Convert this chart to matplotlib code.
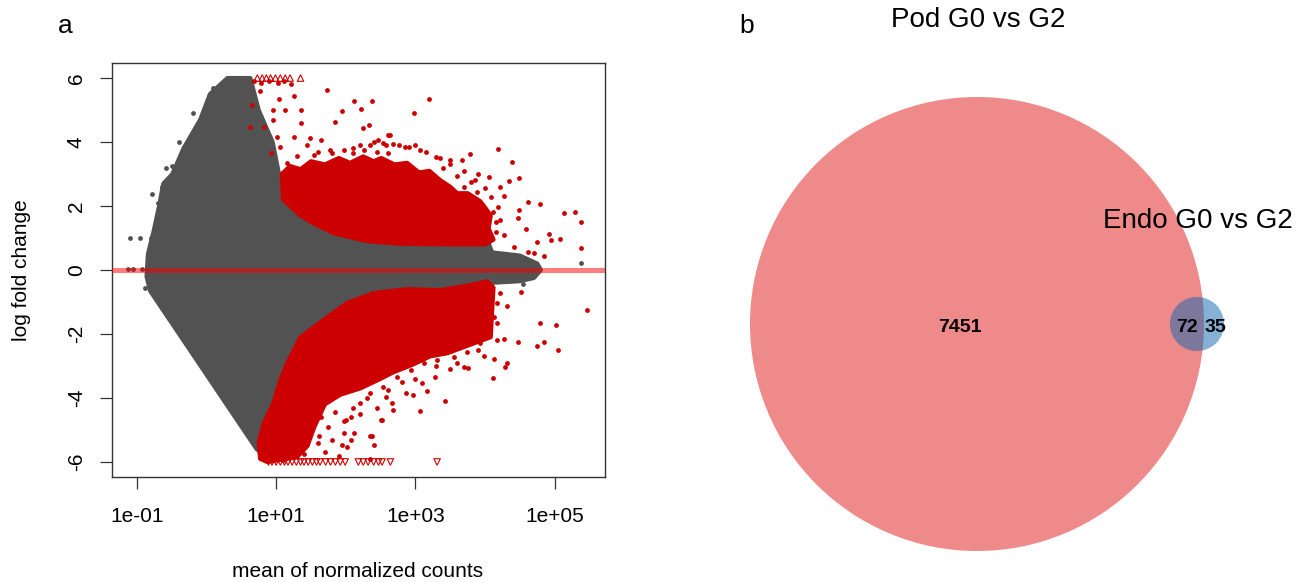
import numpy as np
import matplotlib
matplotlib.use("Agg")
import matplotlib.pyplot as plt
from matplotlib.patches import Circle

plt.rcParams['font.family'] = ['Liberation Sans', 'DejaVu Sans']

# ---------------- Panel a: MA plot (x = log10 mean of normalized counts, y = log fold change)
# outline of the dense non-significant (grey) cloud
grey_log = [-0.81, -0.86, -0.84, -0.76, -0.68, -0.62, -0.49, -0.33, -0.09, 0.05, 0.30, 0.63,
            0.75, 0.95, 1.06, 1.35, 1.82, 2.31, 2.78, 3.40, 4.03, 4.10, 4.50, 4.75, 4.80,
            4.70, 4.50, 4.10, 4.03, 3.40, 2.78, 2.40, 2.07, 1.59, 1.30, 1.06, 0.75, 0.72]
grey_lfc = [-0.65, -0.20, 0.50, 1.20, 2.00, 2.70, 3.00, 3.80, 4.70, 5.50, 6.00, 6.00,
            5.00, 4.00, 2.80, 1.90, 1.25, 1.00, 0.95, 0.95, 0.95, 0.55, 0.45, 0.20, 0.00,
            -0.25, -0.35, -0.40, -0.70, -0.62, -0.55, -0.70, -1.03, -1.56, -2.28, -3.44, -5.65, -5.60]
# outline of dense significant up-regulated (red) cloud
redu_log = [1.08, 1.20, 1.35, 1.50, 1.70, 1.90, 2.06, 2.25, 2.40, 2.51, 2.70, 2.88, 3.05,
            3.20, 3.36, 3.50, 3.60, 3.75, 3.93, 4.00, 4.08, 4.05, 4.12, 4.00, 3.50, 2.78,
            2.31, 1.82, 1.50, 1.35, 1.10]
redu_lfc = [3.00, 3.25, 3.15, 3.40, 3.30, 3.50, 3.35, 3.55, 3.40, 3.50, 3.30, 3.35, 3.05,
            3.10, 2.80, 2.60, 2.40, 2.40, 2.15, 1.95, 1.70, 1.30, 0.95, 0.80, 0.80, 0.82,
            0.90, 1.15, 1.50, 1.70, 2.20]
# outline of dense significant down-regulated (red) cloud
redl_log = [0.75, 0.82, 0.96, 1.06, 1.16, 1.35, 1.68, 2.02, 2.40, 2.88, 3.36, 3.83, 4.03,
            4.12, 4.10, 4.08, 3.83, 3.46, 3.21, 2.97, 2.68, 2.50, 2.21, 1.92, 1.70, 1.55,
            1.45, 1.30, 0.87, 0.77]
redl_lfc = [-5.40, -4.80, -4.16, -3.44, -2.90, -2.10, -1.56, -1.03, -0.72, -0.60, -0.63,
            -0.45, -0.35, -0.55, -1.30, -2.10, -2.30, -2.60, -2.70, -2.95, -3.20, -3.40,
            -3.70, -3.90, -4.20, -4.90, -5.50, -5.85, -6.00, -5.90]
# sparse significant genes
red_pts_log = [1.73, 2.12, 2.37, 1.94, 2.22, 1.85, 2.25, 2.33, 1.04, 1.25, 1.35, 0.77, 0.66,
               0.95, 1.13, 0.96, 0.63, 0.82, 1.01, 1.35, 1.25, 1.49, 1.64, 1.06, 0.92, 1.78,
               2.11, 2.46, 2.57, 2.61, 3.20, 2.98, 2.63, 4.19, 4.39, 3.78, 3.67, 3.90, 4.05,
               4.48, 4.34, 4.21, 4.27, 4.61, 4.78, 4.48, 4.58, 4.47, 5.13, 5.29, 5.37, 5.08,
               4.91, 4.94, 4.75, 5.38, 4.85, 4.70, 4.61, 4.41, 4.27, 4.15, 4.11, 4.19,
               0.68, 0.78, 0.90, 1.02, 1.12, 1.22, 2.68, 2.85, 3.00, 3.15, 3.35, 3.50, 3.70,
               3.85, 2.20, 2.40, 1.60, 1.45,
               2.11, 2.26, 2.35, 2.54, 2.76, 2.90, 3.07, 3.29, 3.50, 3.69, 3.89, 4.08,
               1.15, 1.30, 1.55, 1.80, 1.98, 2.45, 2.60, 3.40, 3.60, 3.80, 4.00, 4.15, 4.22,
               4.52, 5.46, 4.32, 4.78, 5.02, 4.17, 4.03, 4.27, 4.47, 4.74, 4.84, 5.04, 4.12,
               4.31, 4.28, 4.11, 3.75, 3.69, 3.98, 3.42, 3.07, 3.28, 3.17, 3.10, 2.97, 2.86,
               2.68, 2.51, 2.40, 2.37, 2.12, 2.07, 1.98, 1.97, 2.02, 1.95, 2.35, 2.00, 2.35,
               2.52, 2.67, 2.57, 1.65, 1.75, 1.80, 1.60, 1.70, 1.90, 2.20, 2.30, 2.10, 1.85,
               2.45, 2.60, 2.80, 3.00, 3.30, 3.50, 3.60, 3.90,
               2.07, 2.21, 2.35, 2.54, 2.74, 2.93, 3.12, 3.31, 3.55, 3.74, 3.93, 4.17, 4.12,
               4.17, 4.22, 1.50, 1.62, 1.40, 1.10, 1.00, 0.90]
red_pts_lfc = [5.63, 5.27, 5.27, 4.97, 5.03, 4.63, 4.44, 4.53, 5.34, 5.44, 5.00, 5.60, 5.16,
               5.00, 5.00, 4.69, 4.47, 4.47, 4.16, 4.59, 4.16, 4.13, 4.06, 3.84, 3.66, 3.75,
               3.66, 4.06, 3.91, 4.22, 5.34, 4.91, 4.22, 3.78, 3.38, 3.63, 3.44, 3.00, 2.91,
               2.88, 2.78, 2.60, 2.31, 2.13, 2.06, 1.88, 1.28, 1.63, 1.78, 1.81, 1.50, 0.97,
               1.13, 0.94, 0.88, 0.69, 0.44, 0.53, 0.56, 0.72, 1.09, 1.50, 1.81, 1.97,
               5.90, 5.85, 5.90, 5.85, 5.90, 5.80, 3.95, 3.85, 3.90, 3.70, 3.50, 3.30, 3.10,
               2.80, 3.90, 4.00, 3.70, 3.90,
               3.80, 3.75, 3.91, 3.96, 3.91, 3.85, 3.75, 3.54, 3.44, 2.60, 2.45, 2.29,
               3.35, 3.55, 3.60, 3.65, 3.75, 3.70, 3.65, 3.20, 2.95, 2.75, 2.55, 1.20, 1.55,
               -0.70, -1.25, -1.13, -1.66, -1.72, -1.66, -1.78, -2.16, -2.25, -2.38, -2.25,
               -2.50, -2.78, -2.91, -3.03, -3.38, -3.06, -3.03, -2.69, -4.09, -4.41, -3.34,
               -3.78, -3.53, -3.91, -3.84, -4.38, -4.69, -5.47, -5.19, -5.09, -5.31, -4.72,
               -5.09, -5.53, -5.47, -5.91, -4.69, -5.20, -4.69, -4.16, -3.97, -4.60, -4.90,
               -5.30, -5.40, -5.70, -5.80, -4.50, -4.00, -4.30, -4.45, -4.30, -3.75, -3.50,
               -3.40, -3.00, -3.10, -2.90, -2.50,
               -4.58, -4.17, -3.85, -3.65, -3.33, -3.13, -2.92, -2.81, -2.71, -2.55, -2.29,
               -2.19, -1.46, -1.04, -0.73, -4.70, -5.20, -5.75, -5.95, -5.70, -5.30]
# sparse non-significant genes
grey_pts_log = [-1.12, -1.05, -0.92, -1.10, -0.95, -0.78, -0.64, -0.49, 5.38, 4.75, 4.60,
                4.55, 3.83, 3.98, 3.90, 4.03, -0.88, -0.80, -0.72, -0.70, -0.58, -0.40,
                -0.20, 0.10, 0.45]
grey_pts_lfc = [0.03, 0.03, 0.03, 1.00, 1.00, 2.38, 2.60, 3.25, 0.22, 0.09, 0.25, -0.45,
                -1.56, -2.10, -1.90, -0.90, -0.55, 1.00, 1.50, 2.10, 3.20, 4.00, 4.90,
                5.70, 6.00]
# genes beyond the y-limits (drawn at +/-6 as triangles)
tri_up_log = [0.73, 0.80, 0.86, 0.92, 0.99, 1.06, 1.13, 1.20, 1.35]
tri_dn_log = [0.89, 0.94, 1.00, 1.06, 1.12, 1.17, 1.23, 1.29, 1.35, 1.40, 1.46, 1.52, 1.58,
              1.63, 1.71, 1.78, 1.85, 1.92, 1.99, 2.18, 2.25, 2.32, 2.40, 2.47, 2.52, 2.64, 3.31]
LFC_CAP = 6

xticks = [0.1, 10, 1000, 1e5]
xtick_labels = ["1e-01", "1e+01", "1e+03", "1e+05"]
yticks = [-6, -4, -2, 0, 2, 4, 6]

# ---------------- Panel b: Venn counts
pod_only, both, endo_only = 7451, 72, 35
set_names = ["Pod G0 vs G2", "Endo G0 vs G2"]

GREY = "#525252"
RED = "#cd0000"

W, H = 1315, 582
fig = plt.figure(figsize=(W / 100, H / 100), dpi=100)

# --- Venn axes (pixel coordinates)
axv = fig.add_axes([0, 0, 1, 1], zorder=0)
axv.set_xlim(0, W)
axv.set_ylim(H, 0)
axv.axis("off")
r_pod = 227.0
r_endo = r_pod * np.sqrt((both + endo_only) / (pod_only + both))
axv.add_patch(Circle((977, 324), r_pod, facecolor="#ef8a8a", edgecolor="none"))
axv.add_patch(Circle((1197, 324), r_endo, facecolor="#0f65af", alpha=0.5, edgecolor="none"))
axv.text(960, 332, f"{pod_only}", ha="center", va="baseline", fontsize=14, fontweight="bold")
axv.text(1187, 332, f"{both}", ha="center", va="baseline", fontsize=14, fontweight="bold")
axv.text(1215, 332, f"{endo_only}", ha="center", va="baseline", fontsize=14, fontweight="bold")
axv.text(978, 27, set_names[0], ha="center", va="baseline", fontsize=20)
axv.text(1198, 228, set_names[1], ha="center", va="baseline", fontsize=20)
axv.text(65, 33, "a", ha="center", va="baseline", fontsize=19)
axv.text(747, 33, "b", ha="center", va="baseline", fontsize=19)

# --- MA axes
L, R, T, B = 111.7, 605, 63, 477
ax = fig.add_axes([L / W, 1 - B / H, (R - L) / W, (B - T) / H], zorder=1)
ax.set_xscale("log")

def tx(a):
    return 10 ** np.asarray(a, dtype=float)

ax.fill(tx(grey_log), grey_lfc, facecolor=GREY, edgecolor=GREY, linewidth=3.0,
        joinstyle="round", zorder=1)
ax.scatter(tx(grey_pts_log), grey_pts_lfc, s=12, c=GREY, linewidths=0, zorder=1.5)
ax.fill(tx(redu_log), redu_lfc, facecolor=RED, edgecolor=RED, linewidth=3.0,
        joinstyle="round", zorder=2)
ax.fill(tx(redl_log), redl_lfc, facecolor=RED, edgecolor=RED, linewidth=3.0,
        joinstyle="round", zorder=2)
ax.scatter(tx(red_pts_log), red_pts_lfc, s=12, c=RED, linewidths=0, zorder=3)
ax.scatter(tx(tri_up_log), [LFC_CAP] * len(tri_up_log), marker="^", s=22,
           facecolors="none", edgecolors=RED, linewidths=0.8, zorder=3)
ax.scatter(tx(tri_dn_log), [-LFC_CAP] * len(tri_dn_log), marker="v", s=22,
           facecolors="none", edgecolors=RED, linewidths=0.8, zorder=3)
ax.axhline(0, color="#ff0000", alpha=0.5, linewidth=3.6, zorder=4)

ax.set_xlim(10 ** -1.36, 10 ** 5.72)
ax.set_ylim(-6.47, 6.47)
ax.set_xticks(xticks)
ax.set_xticklabels(xtick_labels)
ax.xaxis.set_minor_locator(matplotlib.ticker.NullLocator())
ax.set_yticks(yticks)
ax.set_yticklabels([str(v) for v in yticks])
ax.tick_params(axis="both", length=8.6, width=0.9, color="#333333", labelsize=15,
               direction="out")
ax.tick_params(axis="x", pad=13)
ax.tick_params(axis="y", pad=10, labelrotation=90)
for lab in ax.get_yticklabels():
    lab.set_va("center")
for sp in ax.spines.values():
    sp.set_color("#333333")
    sp.set_linewidth(1.0)

fig.text(358 / W, 1 - 577 / H, "mean of normalized counts", ha="center", va="baseline",
         fontsize=15)
fig.text(22 / W, 1 - 270 / H, "log fold change", ha="center", va="center",
         rotation=90, fontsize=15)

fig.savefig("out.png", dpi=100, facecolor="white")
